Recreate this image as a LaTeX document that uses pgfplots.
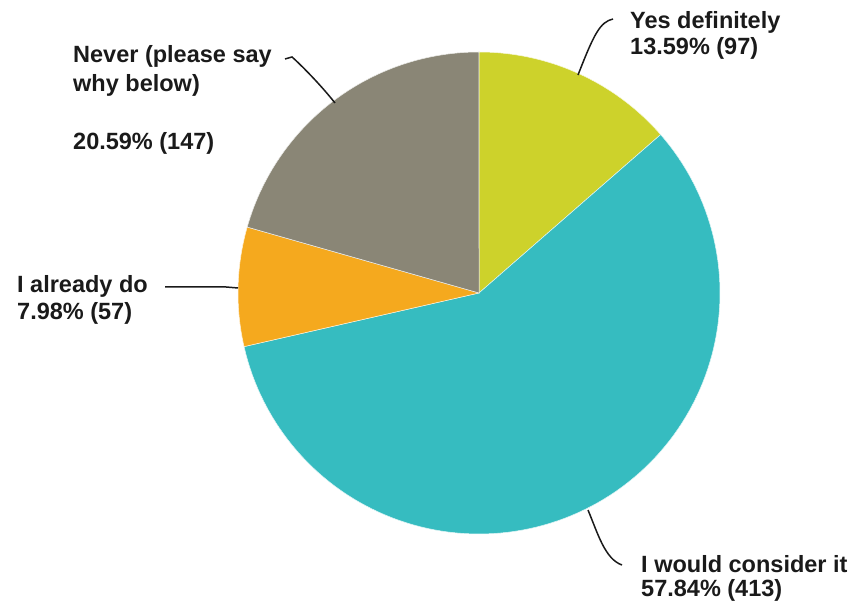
\documentclass[border=0pt]{standalone}
\usepackage{pgfplots}
\pgfplotsset{compat=1.18}
\usepackage{fontspec}
\setmainfont{Liberation Sans}
\definecolor{cYes}{HTML}{CDD22B}
\definecolor{cCons}{HTML}{36BCC0}
\definecolor{cAlr}{HTML}{F5A91E}
\definecolor{cNev}{HTML}{8A8676}
\definecolor{txt}{HTML}{1A1A1A}
\tikzset{lab/.style={anchor=base west, font=\bfseries\fontsize{23.5}{27}\selectfont, text=txt, inner sep=0pt}}
% counts (plain data)
\def\nYes{97}\def\nCons{413}\def\nAlr{57}\def\nNev{147}
\begin{document}
\begin{tikzpicture}
\pgfmathsetmacro{\tot}{\nYes+\nCons+\nAlr+\nNev}
\pgfmathsetmacro{\aA}{90}
\pgfmathsetmacro{\aB}{\aA-360*(\nYes/\tot)}
\pgfmathsetmacro{\aC}{\aB-360*(\nCons/\tot)}
\pgfmathsetmacro{\aD}{\aC-360*(\nAlr/\tot)}
\pgfmathsetmacro{\aE}{\aD-360*(\nNev/\tot)}
\begin{axis}[x=1pt,y=1pt,xmin=0,xmax=861,ymin=0,ymax=604,hide axis,clip=false]
\draw[draw=none] (axis cs:0,0) rectangle (axis cs:861,604);
\addplot[fill=cYes, draw=white!85!cYes, line width=0.5pt, domain=\aB:\aA, samples=60, variable=\t] ({479+241*cos(\t)},{311+241*sin(\t)}) -- (axis cs:479,311) -- cycle;
\addplot[fill=cCons, draw=white!85!cCons, line width=0.5pt, domain=\aC:\aB, samples=120, variable=\t] ({479+241*cos(\t)},{311+241*sin(\t)}) -- (axis cs:479,311) -- cycle;
\addplot[fill=cAlr, draw=white!85!cAlr, line width=0.5pt, domain=\aD:\aC, samples=40, variable=\t] ({479+241*cos(\t)},{311+241*sin(\t)}) -- (axis cs:479,311) -- cycle;
\addplot[fill=cNev, draw=white!85!cNev, line width=0.5pt, domain=\aE:\aD, samples=60, variable=\t] ({479+241*cos(\t)},{311+241*sin(\t)}) -- (axis cs:479,311) -- cycle;
% leader lines
\draw[txt, line width=1.5pt] (axis cs:578,529) .. controls (axis cs:594,570) and (axis cs:600,582) .. (axis cs:613,585);
\draw[txt, line width=1.5pt] (axis cs:285,545) -- (axis cs:292,547) .. controls (axis cs:300,540) and (axis cs:320,520) .. (axis cs:335,501);
\draw[txt, line width=1.5pt] (axis cs:165,317) -- (axis cs:226,317) -- (axis cs:238,316);
\draw[txt, line width=1.5pt] (axis cs:588,94) .. controls (axis cs:598,70) and (axis cs:605,45) .. (axis cs:622,39);
% labels
\node[lab] at (axis cs:630,575) {Yes definitely};
\node[lab] at (axis cs:630,549) {13.59\% (97)};
\node[lab] at (axis cs:73,541) {Never (please say};
\node[lab] at (axis cs:73,512) {why below)};
\node[lab] at (axis cs:73,454) {20.59\% (147)};
\node[lab] at (axis cs:17,311) {I already do};
\node[lab] at (axis cs:17,284) {7.98\% (57)};
\node[lab] at (axis cs:641,31) {I would consider it};
\node[lab] at (axis cs:641,7) {57.84\% (413)};
\end{axis}
\end{tikzpicture}
\end{document}
